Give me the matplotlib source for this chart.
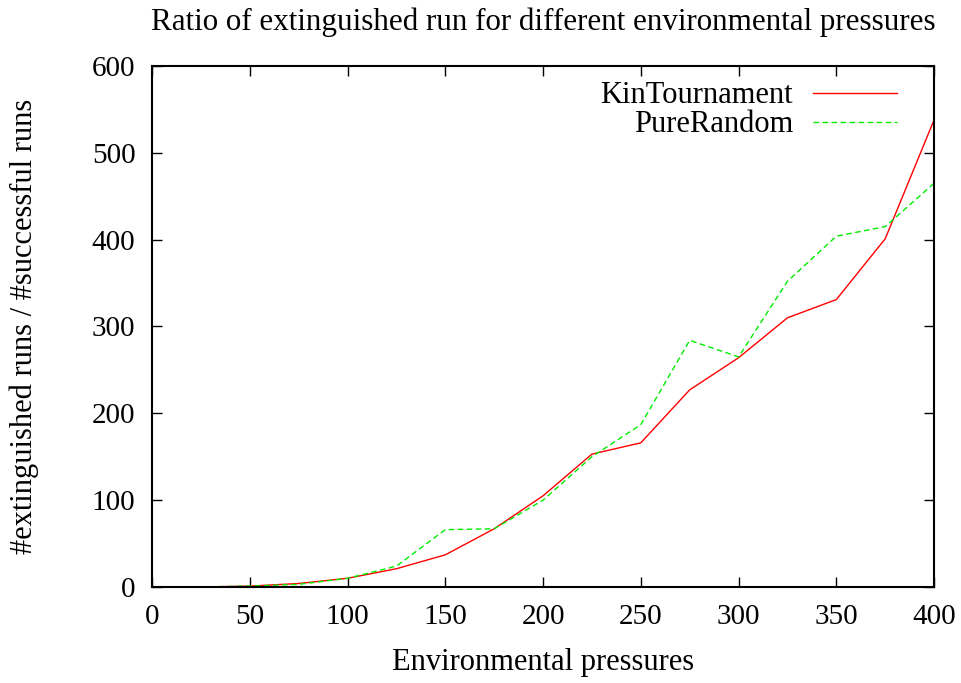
import matplotlib
matplotlib.use("Agg")
import matplotlib.pyplot as plt

x = [25, 50, 75, 100, 125, 150, 175, 200, 225, 250, 275, 300, 325, 350, 375, 400]
kin = [0, 1, 4, 10, 21, 37, 67, 105, 153, 166, 227, 264, 310, 331, 401, 538]
pure = [0, 1, 3, 10, 24, 66, 67, 100, 150, 187, 284, 265, 352, 404, 415, 465]

plt.rcParams['font.family'] = ['Liberation Serif', 'DejaVu Serif']

fig = plt.figure(figsize=(9.62, 6.83), dpi=100)
ax = fig.add_axes([0.158, 0.1406, 0.813, 0.7628])
ax.plot(x, kin, color='#ff0000', lw=1.0, label='KinTournament')
ax.plot(x, pure, color='#00ee00', lw=1.0, ls=(0, (4, 2.5)), label='PureRandom')
ax.set_xlim(0, 400)
ax.set_ylim(0, 600)
ax.set_xticks(range(0, 401, 50))
ax.set_yticks(range(0, 601, 100))
ax.tick_params(direction='in', top=True, right=True, labelsize=21, length=7, width=1, pad=12)
for s in ax.spines.values():
    s.set_linewidth(1.5)
ax.set_title('Ratio of extinguished run for different environmental pressures', fontsize=22.3, pad=26)
ax.set_xlabel('Environmental pressures', fontsize=22, labelpad=13)
ax.set_ylabel('#extinguished runs / #successful runs', fontsize=22, labelpad=38)
ax.legend(loc='upper right', bbox_to_anchor=(0.972, 1.0), frameon=False, markerfirst=False, fontsize=22,
          handlelength=2.75, borderaxespad=0.3, borderpad=0.2, labelspacing=0.0, handletextpad=0.65)
fig.savefig('out.png', dpi=100)
